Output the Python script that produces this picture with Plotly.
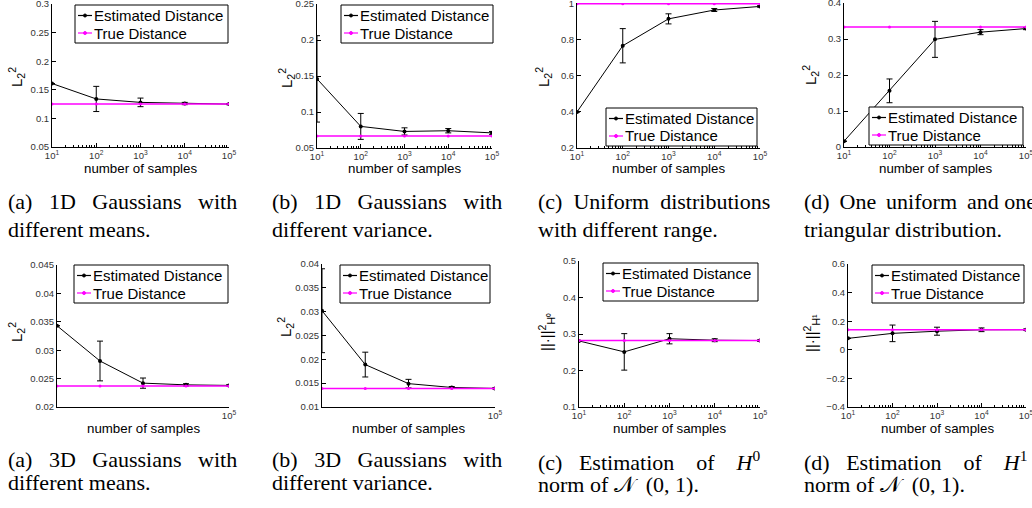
import plotly.graph_objects as go

FIG_W, FIG_H = 1032, 508

# ---------------- data ----------------
samples = [10, 100, 1000, 10000, 100000]
x_tick_vals = [10, 100, 1000, 10000, 100000]
x_tick_text = ["10<sup>1</sup>", "10<sup>2</sup>", "10<sup>3</sup>", "10<sup>4</sup>", "10<sup>5</sup>"]
legend_labels = ["Estimated Distance", "True Distance"]
x_title = "number of samples"

# (a) 1D Gaussians with different means
est_1d_means = [0.161, 0.134, 0.128, 0.126, 0.125]
err_1d_means = [0.0, 0.022, 0.0075, 0.002, 0.001]
true_1d_means = [0.125, 0.125, 0.125, 0.125, 0.125]
yticks_1d_means = [0.05, 0.1, 0.15, 0.2, 0.25, 0.3]

# (b) 1D Gaussians with different variance
est_1d_var = [0.146, 0.080, 0.073, 0.074, 0.071]
err_1d_var = [0.060, 0.018, 0.005, 0.003, 0.002]
true_1d_var = [0.0667, 0.0667, 0.0667, 0.0667, 0.0667]
yticks_1d_var = [0.05, 0.1, 0.15, 0.2, 0.25]

# (c) Uniform distributions with different range
est_uniform = [0.40, 0.767, 0.916, 0.965, 0.985]
err_uniform = [0.0, 0.095, 0.028, 0.008, 0.004]
true_uniform = [1.0, 1.0, 1.0, 1.0, 1.0]
yticks_uniform = [0.2, 0.4, 0.6, 0.8, 1.0]

# (d) One uniform and one triangular distribution
est_tri = [0.016, 0.156, 0.299, 0.319, 0.329]
err_tri = [0.0, 0.033, 0.050, 0.007, 0.003]
true_tri = [0.3333, 0.3333, 0.3333, 0.3333, 0.3333]
yticks_tri = [0, 0.1, 0.2, 0.3, 0.4]

# (a) 3D Gaussians with different means
est_3d_means = [0.0343, 0.0281, 0.0242, 0.0239, 0.0238]
err_3d_means = [0.0, 0.0035, 0.0009, 0.0002, 0.0001]
true_3d_means = [0.0237, 0.0237, 0.0237, 0.0237, 0.0237]
yticks_3d_means = [0.02, 0.025, 0.03, 0.035, 0.04, 0.045]

# (b) 3D Gaussians with different variance
est_3d_var = [0.0302, 0.0189, 0.0149, 0.0141, 0.0139]
err_3d_var = [0.0088, 0.0026, 0.0009, 0.0002, 0.0001]
true_3d_var = [0.0139, 0.0139, 0.0139, 0.0139, 0.0139]
yticks_3d_var = [0.01, 0.015, 0.02, 0.025, 0.03, 0.035, 0.04]

# (c) Estimation of H0 norm
est_h0 = [0.281, 0.251, 0.287, 0.283, 0.282]
err_h0 = [0.0, 0.050, 0.014, 0.004, 0.002]
true_h0 = [0.282, 0.282, 0.282, 0.282, 0.282]
yticks_h0 = [0.1, 0.2, 0.3, 0.4, 0.5]

# (d) Estimation of H1 norm
est_h1 = [0.080, 0.115, 0.130, 0.140, 0.141]
err_h1 = [0.0, 0.058, 0.028, 0.013, 0.004]
true_h1 = [0.141, 0.141, 0.141, 0.141, 0.141]
yticks_h1 = [-0.4, -0.2, 0, 0.2, 0.4, 0.6]

y_title_l2 = "L<sub>2</sub><sup>2</sup>"
y_title_h0 = "||·||<sup>2</sup><sub>H⁰</sub>"
y_title_h1 = "||·||<sup>2</sup><sub>H¹</sub>"

NB = "\u00a0"
TH = "\u2009"
captions = [
    ["(a)" + " " + NB * 2 + "1D" + " " + NB * 2 + "Gaussians" + " " + NB * 2 + "with", "different means."],
    ["(b)" + " " + NB * 2 + "1D" + " " + NB * 2 + "Gaussians" + " " + NB * 2 + "with", "different variance."],
    ["(c)" + " " + NB + "Uniform" + " " + NB + "distributions", "with different range."],
    ["(d)" + " " + TH + "One" + " " + TH + "uniform" + " " + TH + "and one", "triangular distribution."],
    ["(a)" + " " + NB * 2 + "3D" + " " + NB * 2 + "Gaussians" + " " + NB * 2 + "with", "different means."],
    ["(b)" + " " + NB * 2 + "3D" + " " + NB * 2 + "Gaussians" + " " + NB * 2 + "with", "different variance."],
    ["(c)" + " " + NB * 2 + "Estimation" + " " + NB * 3 + "of" + " " + NB * 3 + "<i>H</i><sup>0</sup>", "norm of 𝒩" + NB + " (0, 1)."],
    ["(d)" + " " + NB * 2 + "Estimation" + " " + NB * 3 + "of" + " " + NB * 3 + "<i>H</i><sup>1</sup>", "norm of 𝒩" + NB + " (0, 1)."],
]

# ---------------- layout (pixel geometry) ----------------
panels = [
    dict(est=est_1d_means, err=err_1d_means, true=true_1d_means, yticks=yticks_1d_means, yr=[0.05, 0.3],
         px=(52, 229), py=(4, 147), yt=y_title_l2, ytp=(17, 77), leg=(75, 5, 228), xl="all", cap=(6, 202, 229)),
    dict(est=est_1d_var, err=err_1d_var, true=true_1d_var, yticks=yticks_1d_var, yr=[0.05, 0.25],
         px=(317, 492), py=(4, 148), yt=y_title_l2, ytp=(287, 78), leg=(341, 5, 493), xl="all", cap=(270, 202, 229)),
    dict(est=est_uniform, err=err_uniform, true=true_uniform, yticks=yticks_uniform, yr=[0.2, 1.004],
         px=(577, 760), py=(3, 148), yt=y_title_l2, ytp=(544, 77), leg=(606, 108, 757), xl="all", cap=(536, 202, 229)),
    dict(est=est_tri, err=err_tri, true=true_tri, yticks=yticks_tri, yr=[0, 0.4],
         px=(844, 1026), py=(3, 147), yt=y_title_l2, ytp=(811, 75), leg=(869, 107, 1023), xl="all", cap=(802, 202, 229)),
    dict(est=est_3d_means, err=err_3d_means, true=true_3d_means, yticks=yticks_3d_means, yr=[0.02, 0.045],
         px=(57, 229), py=(265, 407), yt=y_title_l2, ytp=(16, 332), leg=(74, 265, 228), xl="last", cap=(6, 459, 482)),
    dict(est=est_3d_var, err=err_3d_var, true=true_3d_var, yticks=yticks_3d_var, yr=[0.01, 0.04],
         px=(322, 495), py=(264, 407), yt=y_title_l2, ytp=(285, 327), leg=(340, 265, 490), xl="last", cap=(270, 459, 482)),
    dict(est=est_h0, err=err_h0, true=true_h0, yticks=yticks_h0, yr=[0.1, 0.5],
         px=(579, 760), py=(261, 407), yt=y_title_h0, ytp=(546, 332), leg=(603, 263, 758), xl="all", cap=(536, 461, 484)),
    dict(est=est_h1, err=err_h1, true=true_h1, yticks=yticks_h1, yr=[-0.4, 0.6],
         px=(848, 1026), py=(264, 407), yt=y_title_h1, ytp=(811, 333), leg=(872, 265, 1024), xl="all", cap=(802, 461, 484)),
]

MAGENTA = "#ff00ff"
SANS = "Liberation Sans, Arial, sans-serif"
SERIF = "Liberation Serif, Times New Roman, serif"

def fx(p):
    return p / FIG_W

def fy(p):
    return 1 - p / FIG_H

minor_vals = [m * 10 ** e for e in range(1, 5) for m in range(2, 10)]

fig = go.Figure()
layout = dict(
    template="none",
    width=FIG_W, height=FIG_H, margin=dict(l=0, r=0, t=0, b=0, pad=0, autoexpand=False),
    paper_bgcolor="white", plot_bgcolor="white", showlegend=False,
)
annotations = []
shapes = []

for i, p in enumerate(panels):
    n = "" if i == 0 else str(i + 1)
    xa, ya = "x" + n, "y" + n
    fig.add_trace(go.Scatter(
        x=samples, y=p["est"], xaxis=xa, yaxis=ya, name=legend_labels[0],
        mode="lines+markers", line=dict(color="black", width=1),
        marker=dict(color="black", size=4),
        error_y=dict(type="data", array=p["err"], color="black", thickness=1, width=3),
    ))
    fig.add_trace(go.Scatter(
        x=samples, y=p["true"], xaxis=xa, yaxis=ya, name=legend_labels[1],
        mode="lines+markers", line=dict(color=MAGENTA, width=1.5),
        marker=dict(color=MAGENTA, size=3),
    ))
    if p["xl"] == "all":
        xtv, xtt = x_tick_vals, x_tick_text
        minor = dict(ticks="inside", ticklen=2, tickcolor="black", tickmode="array", tickvals=minor_vals)
        xticks = "inside"
    else:
        xtv, xtt = x_tick_vals[-1:], x_tick_text[-1:]
        minor = None
        xticks = ""
    xax = dict(
        type="log", range=[1, 5], domain=[fx(p["px"][0]), fx(p["px"][1])], anchor=ya,
        automargin=False, ticklabeloverflow="allow",
        showline=True, linecolor="black", linewidth=1, showgrid=False, zeroline=False,
        ticks=xticks, ticklen=4, tickcolor="black", tickmode="array", tickvals=xtv, ticktext=xtt,
        tickfont=dict(family=SANS, size=9.5, color="#333"),
    )
    if minor:
        xax["minor"] = minor
    layout["xaxis" + n] = xax
    layout["yaxis" + n] = dict(
        range=p["yr"], domain=[fy(p["py"][1]), fy(p["py"][0])], anchor=xa,
        automargin=False, ticklabeloverflow="allow",
        showline=True, linecolor="black", linewidth=1, showgrid=False, zeroline=False,
        ticks="inside", ticklen=4, tickcolor="black", tickmode="array", tickvals=p["yticks"],
        tickfont=dict(family=SANS, size=9.5, color="#333"),
    )
    # axis titles
    xc = (p["px"][0] + p["px"][1]) / 2
    xt_y = 168 if i < 4 else 428
    annotations.append(dict(xref="paper", yref="paper", x=fx(xc), y=fy(xt_y), text=x_title,
                            showarrow=False, xanchor="center", yanchor="middle",
                            font=dict(family=SANS, size=13.3, color="black")))
    annotations.append(dict(xref="paper", yref="paper", x=fx(p["ytp"][0]), y=fy(p["ytp"][1]), text=p["yt"],
                            showarrow=False, xanchor="center", yanchor="middle", textangle=-90,
                            font=dict(family=SANS, size=15, color="black")))
    # legend box
    lx0, ly0, lx1 = p["leg"]
    ly1 = ly0 + 38
    shapes.append(dict(type="rect", xref="paper", yref="paper", x0=fx(lx0), x1=fx(lx1), y0=fy(ly1), y1=fy(ly0),
                       line=dict(color="black", width=1), fillcolor="white", layer="above"))
    for k, (col, lab) in enumerate([("black", legend_labels[0]), (MAGENTA, legend_labels[1])]):
        ry = ly0 + 10.5 + 17.5 * k
        shapes.append(dict(type="line", xref="paper", yref="paper", x0=fx(lx0 + 3), x1=fx(lx0 + 17),
                           y0=fy(ry), y1=fy(ry), line=dict(color=col, width=1.2), layer="above"))
        shapes.append(dict(type="circle", xref="paper", yref="paper", x0=fx(lx0 + 8.5), x1=fx(lx0 + 11.5),
                           y0=fy(ry + 1.5), y1=fy(ry - 1.5), line=dict(color=col, width=1), fillcolor=col, layer="above"))
        annotations.append(dict(xref="paper", yref="paper", x=fx(lx0 + 17), y=fy(ry), text=lab,
                                showarrow=False, xanchor="left", yanchor="middle",
                                font=dict(family=SANS, size=15, color="black")))
    # caption
    cx, cy1, cy2 = p["cap"]
    for line_text, cyy in zip(captions[i], (cy1, cy2)):
        annotations.append(dict(xref="paper", yref="paper", x=fx(cx), y=fy(cyy), text=line_text,
                                showarrow=False, xanchor="left", yanchor="middle",
                                font=dict(family=SERIF, size=22, color="black")))

layout["annotations"] = annotations
layout["shapes"] = shapes
fig.update_layout(**layout)
fig.write_html("out.html", config={"displayModeBar": False},
               post_script="document.body.style.margin='0px';document.body.style.overflow='hidden';")
